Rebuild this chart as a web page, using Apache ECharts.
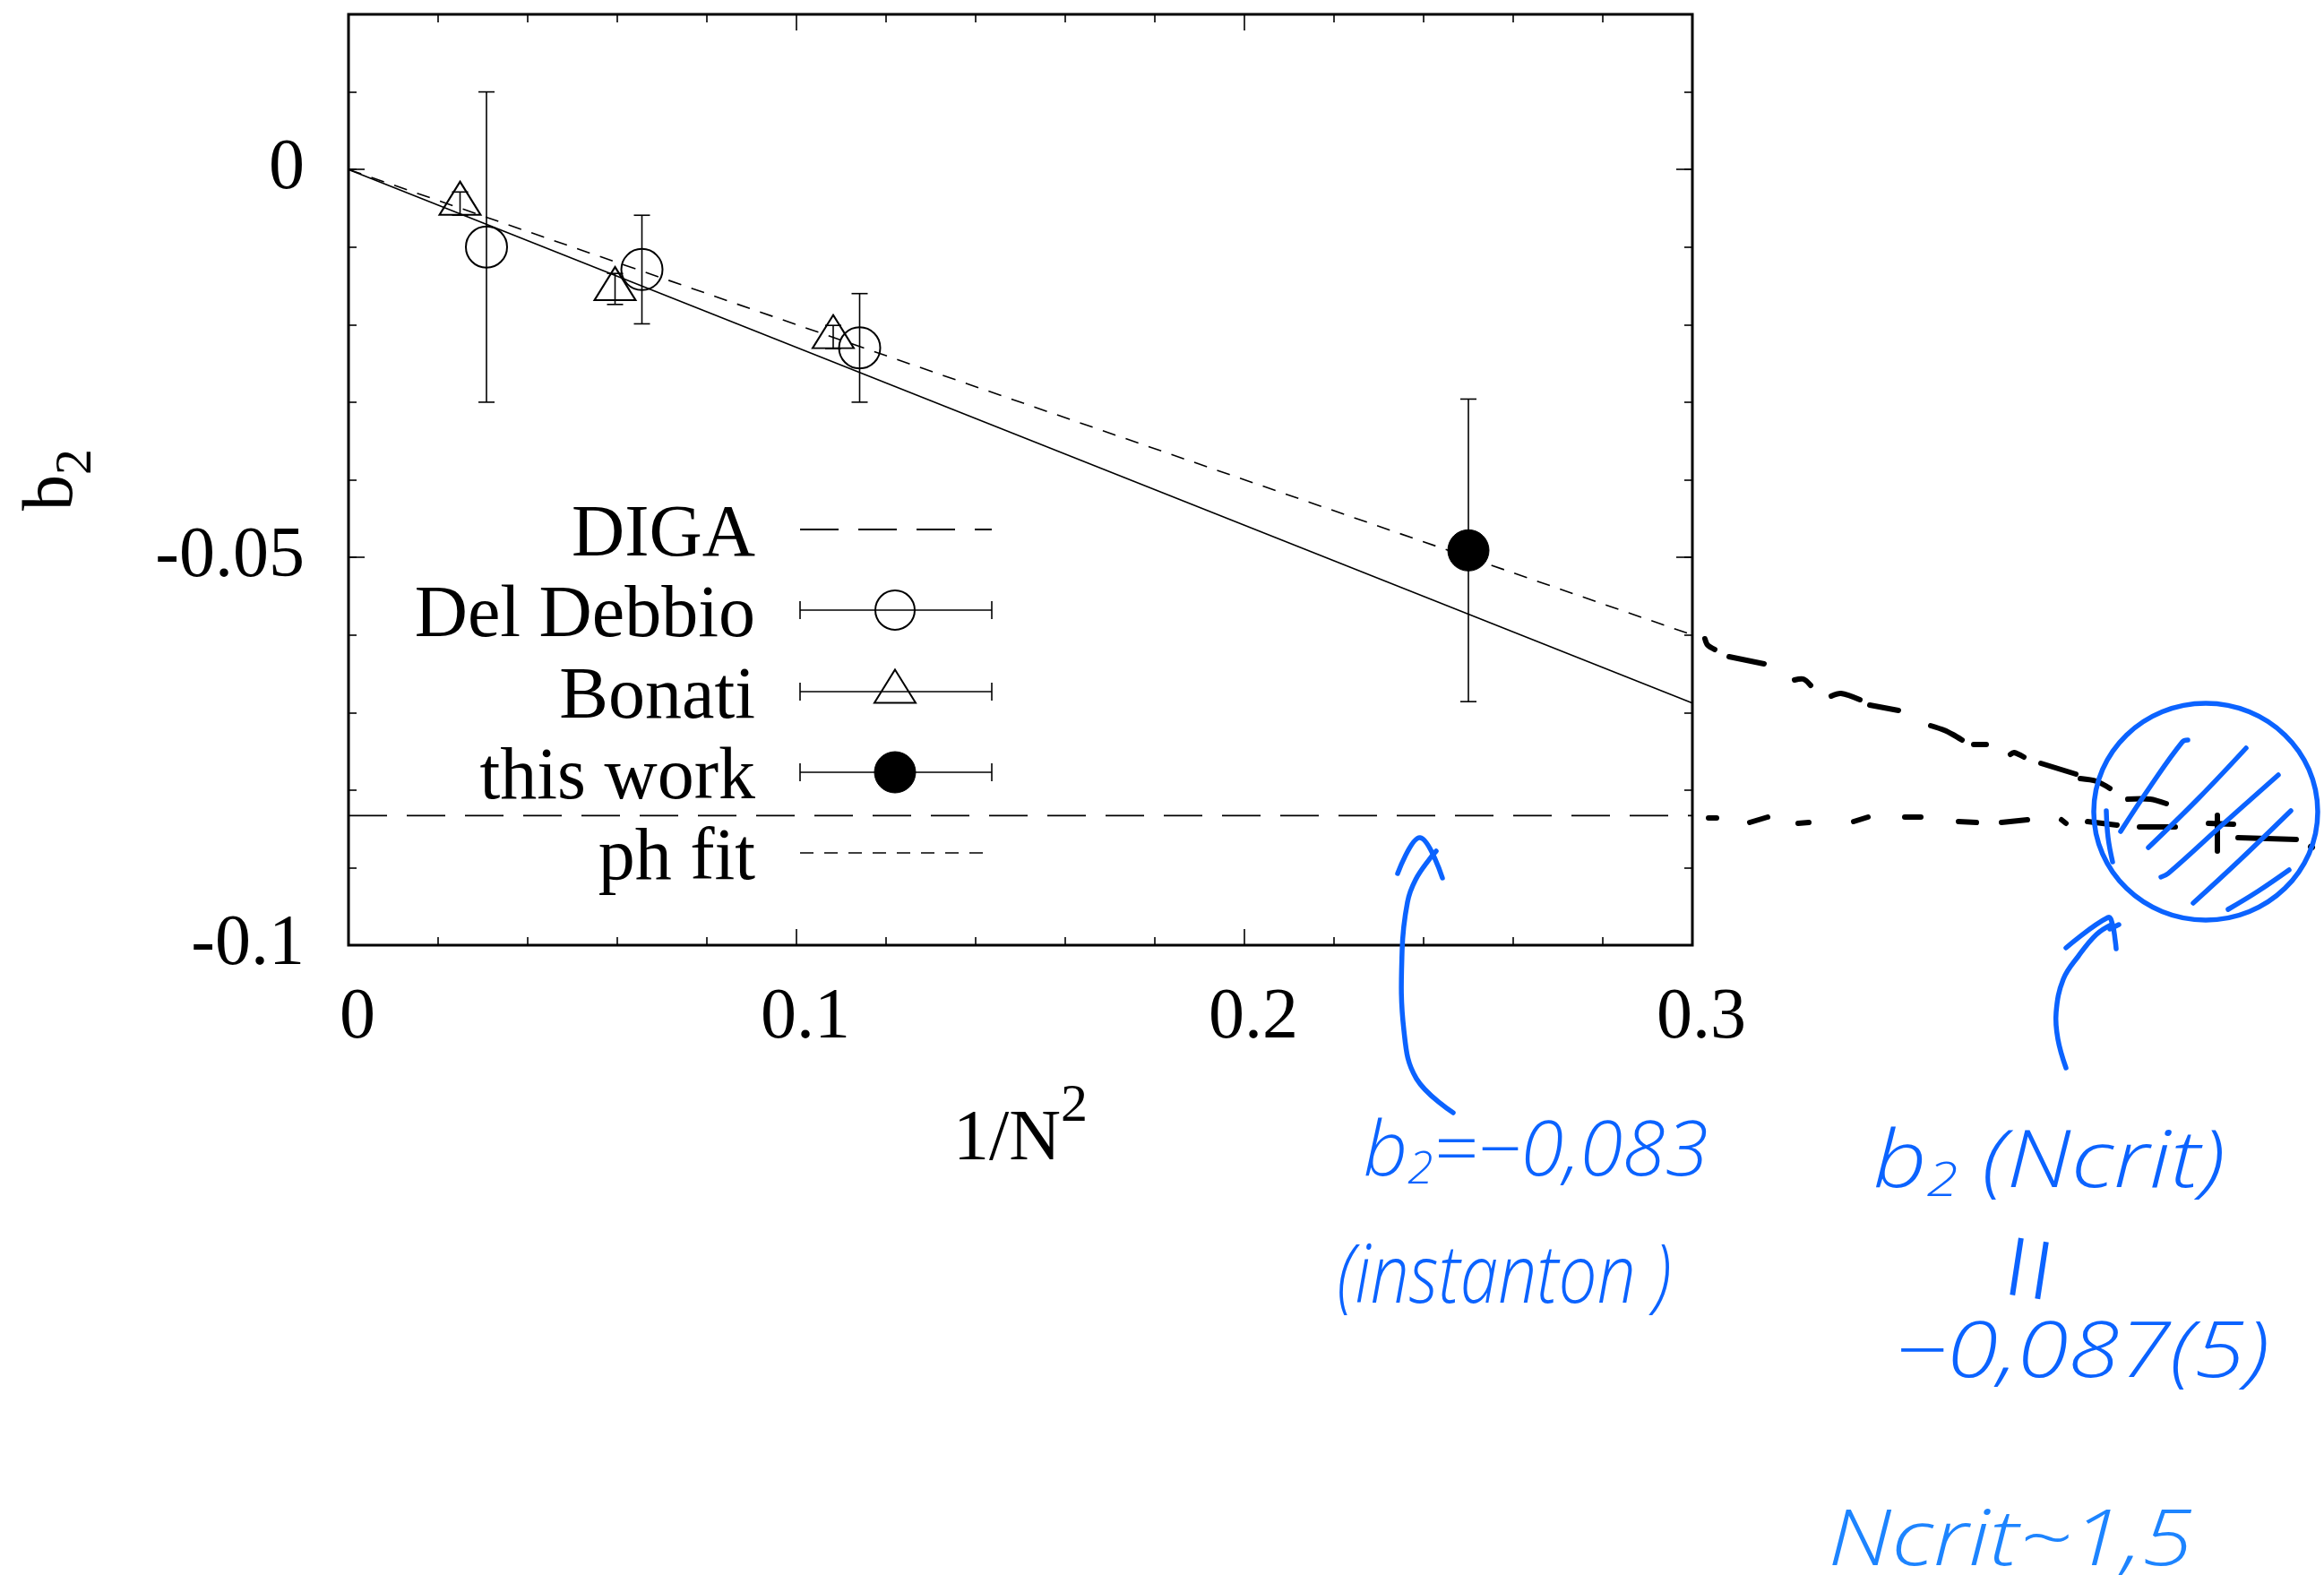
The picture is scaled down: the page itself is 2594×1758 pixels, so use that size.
<!DOCTYPE html>
<html>
<head>
<meta charset="utf-8">
<script src="https://cdn.jsdelivr.net/npm/echarts@6/dist/echarts.min.js"></script>
<style>
  html, body { margin: 0; padding: 0; background: #fff; }
  #chart { width: 2594px; height: 1758px; }
</style>
</head>
<body>
<div id="chart"></div>
<script>
// b2 versus 1/N^2 : lattice results, fits and the instanton-gas value
const ddX = [0.0308, 0.0655, 0.1141];
const ddY = [-0.0100, -0.0129, -0.0230];
const ddErr = [0.0200, 0.0070, 0.0070];

const bonX = [0.0249, 0.0595, 0.1082];
const bonY = [-0.0044, -0.0154, -0.0216];
const bonErr = [0.0015, 0.0020, 0.0015];

const workX = [0.25];
const workY = [-0.0491];
const workErr = [0.0195];

const fitX = [0, 0.3];
const phFitY = [0, -0.0600];
const solidFitY = [0, -0.0688];
const digaY = [-0.0833, -0.0833];

const xTicks = [0, 0.1, 0.2, 0.3];
const xTickLabels = ['0', '0.1', '0.2', '0.3'];
const yTicks = [-0.1, -0.05, 0];
const yTickLabels = ['-0.1', '-0.05', '0'];

const legendNames = ['DIGA', 'Del Debbio', 'Bonati', 'this work', 'ph fit'];

const SERIF = '"Liberation Serif", "Times New Roman", serif';
const HAND = '"Open Sans", "Noto Sans", "DejaVu Sans", sans-serif';
const BLUE = '#0b63ff';
const BLUE2 = '#1d84ff';

const chart = echarts.init(document.getElementById('chart'), null, { renderer: 'canvas' });

function pairs(xs, ys) { return xs.map((x, i) => [x, ys[i]]); }

function tickText(ticks, labels) {
  return function (v) {
    for (let i = 0; i < ticks.length; i++) {
      if (Math.abs(v - ticks[i]) < 1e-9) return labels[i];
    }
    return '';
  };
}

function errorBars(name, xs, ys, es) {
  return {
    name: name,
    type: 'custom',
    xAxisIndex: 0, yAxisIndex: 0,
    silent: true, z: 3,
    data: xs.map((x, i) => [x, ys[i] - es[i], ys[i] + es[i]]),
    renderItem: function (params, api) {
      const lo = api.coord([api.value(0), api.value(1)]);
      const hi = api.coord([api.value(0), api.value(2)]);
      const cap = 9;
      const st = { stroke: '#000', lineWidth: 1.6 };
      return {
        type: 'group',
        children: [
          { type: 'line', shape: { x1: lo[0], y1: lo[1], x2: hi[0], y2: hi[1] }, style: st },
          { type: 'line', shape: { x1: lo[0] - cap, y1: lo[1], x2: lo[0] + cap, y2: lo[1] }, style: st },
          { type: 'line', shape: { x1: hi[0] - cap, y1: hi[1], x2: hi[0] + cap, y2: hi[1] }, style: st }
        ]
      };
    }
  };
}

const tickStyle = { color: '#000', width: 1.6 };

function xAx(pos, showLabels) {
  return {
    type: 'value', position: pos, min: 0, max: 0.3, interval: 0.1,
    axisLine: { show: false, onZero: false },
    axisTick: { show: true, inside: true, length: 18, lineStyle: tickStyle },
    minorTick: { show: true, splitNumber: 5, length: 9, lineStyle: tickStyle },
    splitLine: { show: false },
    axisLabel: showLabels ? {
      show: true, margin: 42, color: '#000', fontSize: 80, fontFamily: SERIF,
      padding: [0, 0, 0, 20],
      formatter: tickText(xTicks, xTickLabels)
    } : { show: false }
  };
}

function yAx(pos, interval, len, showLabels) {
  return {
    type: 'value', position: pos, min: -0.1, max: 0.02, interval: interval,
    axisLine: { show: false, onZero: false },
    axisTick: { show: true, inside: true, length: len, lineStyle: tickStyle },
    splitLine: { show: false },
    axisLabel: showLabels ? {
      show: true, margin: 49, color: '#000', fontSize: 80, fontFamily: SERIF,
      showMaxLabel: false,
      formatter: tickText(yTicks, yTickLabels)
    } : { show: false }
  };
}

const xAxes = [xAx('bottom', true), xAx('top', false)];
xAxes[0].name = '{m|1/N}{s|2}';
xAxes[0].nameLocation = 'middle';
xAxes[0].nameGap = 150;
xAxes[0].nameTextStyle = {
  color: '#000', fontFamily: SERIF,
  rich: {
    m: { fontSize: 80, fontFamily: SERIF, color: '#000', lineHeight: 80, verticalAlign: 'bottom' },
    s: { fontSize: 60, fontFamily: SERIF, color: '#000', verticalAlign: 'top', padding: [0, 0, 48, 0] }
  }
};

const yAxes = [
  yAx('left', 0.05, 18, true),
  yAx('left', 0.01, 9, false),
  yAx('right', 0.05, 18, false),
  yAx('right', 0.01, 9, false)
];
yAxes[0].name = '{b|b}{s|2}';
yAxes[0].nameLocation = 'middle';
yAxes[0].nameRotate = 90;
yAxes[0].nameGap = 290;
yAxes[0].nameTextStyle = {
  color: '#000', fontFamily: SERIF,
  rich: {
    b: { fontSize: 80, fontFamily: SERIF, color: '#000', lineHeight: 80, verticalAlign: 'top' },
    s: { fontSize: 58, fontFamily: SERIF, color: '#000', lineHeight: 58, verticalAlign: 'top', padding: [38, 0, 0, 0] }
  }
};

const series = [
  {
    name: 'solid fit', type: 'line', data: pairs(fitX, solidFitY),
    showSymbol: false, silent: true, z: 2,
    lineStyle: { color: '#000', width: 1.6, type: 'solid' }
  },
  {
    name: legendNames[4], type: 'line', data: pairs(fitX, phFitY),
    showSymbol: false, silent: true, z: 2,
    lineStyle: { color: '#000', width: 1.6, type: [15, 12] }
  },
  {
    name: legendNames[0], type: 'line', data: pairs(fitX, digaY),
    showSymbol: false, silent: true, z: 2,
    lineStyle: { color: '#000', width: 1.8, type: [43, 22] }
  },
  errorBars(legendNames[1] + ' errors', ddX, ddY, ddErr),
  errorBars(legendNames[2] + ' errors', bonX, bonY, bonErr),
  errorBars(legendNames[3] + ' errors', workX, workY, workErr),
  {
    name: legendNames[1], type: 'scatter', data: pairs(ddX, ddY), z: 4,
    symbol: 'circle', symbolSize: 46,
    itemStyle: { color: 'rgba(0,0,0,0)', borderColor: '#000', borderWidth: 2, opacity: 1 }
  },
  {
    name: legendNames[2], type: 'scatter', data: pairs(bonX, bonY), z: 4,
    symbol: 'triangle', symbolSize: [46, 37], symbolOffset: [0, -6],
    itemStyle: { color: 'rgba(0,0,0,0)', borderColor: '#000', borderWidth: 2, opacity: 1 }
  },
  {
    name: legendNames[3], type: 'scatter', data: pairs(workX, workY), z: 4,
    symbol: 'circle', symbolSize: 46,
    itemStyle: { color: '#000', borderColor: '#000', borderWidth: 1, opacity: 1 }
  }
];

// key: label column on the left, sample column on the right
const keyRight = 843, keyX1 = 893, keyX2 = 1107, keyMid = 999;
const keyRows = [591, 681, 772, 862, 952];
const keyKinds = ['longdash', 'open-circle', 'open-triangle', 'filled-circle', 'shortdash'];
const keyGraphics = [];
keyRows.forEach(function (y, i) {
  keyGraphics.push({
    type: 'text', x: keyRight, y: y + 7, silent: true,
    style: { text: legendNames[i], fontSize: 82, fontFamily: SERIF, fill: '#000', align: 'right', verticalAlign: 'middle' }
  });
  const kind = keyKinds[i];
  const st = { stroke: '#000', lineWidth: 1.6 };
  if (kind === 'longdash' || kind === 'shortdash') {
    keyGraphics.push({
      type: 'line', silent: true,
      shape: { x1: keyX1, y1: y, x2: keyX2, y2: y },
      style: { stroke: '#000', lineWidth: kind === 'longdash' ? 1.8 : 1.6, lineDash: kind === 'longdash' ? [43, 22] : [15, 12] }
    });
  } else {
    keyGraphics.push({ type: 'line', silent: true, shape: { x1: keyX1, y1: y, x2: keyX2, y2: y }, style: st });
    keyGraphics.push({ type: 'line', silent: true, shape: { x1: keyX1, y1: y - 10, x2: keyX1, y2: y + 10 }, style: st });
    keyGraphics.push({ type: 'line', silent: true, shape: { x1: keyX2, y1: y - 10, x2: keyX2, y2: y + 10 }, style: st });
    if (kind === 'open-circle') {
      keyGraphics.push({ type: 'circle', silent: true, shape: { cx: keyMid, cy: y, r: 22 }, style: { fill: 'none', stroke: '#000', lineWidth: 2 } });
    } else if (kind === 'filled-circle') {
      keyGraphics.push({ type: 'circle', silent: true, shape: { cx: keyMid, cy: y, r: 23 }, style: { fill: '#000', stroke: '#000', lineWidth: 1 } });
    } else {
      keyGraphics.push({
        type: 'polygon', silent: true,
        shape: { points: [[keyMid, y - 24.5], [keyMid + 23, y + 12.5], [keyMid - 23, y + 12.5]] },
        style: { fill: 'none', stroke: '#000', lineWidth: 2 }
      });
    }
  }
});

// hand-written notes over the figure
function stroke(points, color, width, smooth) {
  return {
    type: 'polyline', silent: true, z: 50,
    shape: { points: points, smooth: smooth || 0 },
    style: { stroke: color, lineWidth: width, fill: 'none', lineCap: 'round', lineJoin: 'round' }
  };
}
const inkBlack = '#000';
const inkStrokes = [
  // extrapolation of the dashed fit beyond the frame
  [[1903, 713], [1906, 720], [1914, 725]],
  [[1930, 733], [1969, 741]],
  [[2003, 759], [2013, 758], [2021, 765]],
  [[2044, 777], [2055, 774], [2076, 781]],
  [[2087, 787], [2119, 793]],
  [[2155, 810], [2170, 815], [2180, 820], [2190, 826]],
  [[2203, 831], [2217, 831]],
  [[2244, 842], [2248, 840], [2259, 845]],
  [[2278, 852], [2317, 864]],
  [[2322, 869], [2340, 872], [2355, 880]],
  [[2375, 892], [2400, 892], [2418, 897]],
  // continuation of the instanton line
  [[1907, 913], [1916, 913]],
  [[1953, 918], [1973, 912]],
  [[2007, 919], [2019, 918]],
  [[2069, 917], [2085, 912]],
  [[2126, 912], [2144, 912]],
  [[2186, 917], [2206, 918]],
  [[2234, 918], [2263, 915]],
  [[2301, 915], [2306, 919]],
  [[2330, 917], [2363, 921]],
  [[2388, 923], [2428, 923]],
  [[2475, 910], [2475, 950]],
  [[2465, 919], [2493, 920]],
  [[2498, 935], [2563, 937]],
  [[2579, 945], [2581, 946]]
];
const handGraphics = inkStrokes.map(p => stroke(p, inkBlack, 6, 0.3));

const blueStrokes = [
  // arrow to the instanton line
  [[1622, 1242], [1581, 1204], [1567, 1150], [1565, 1061], [1571, 1007], [1580, 982], [1597, 957], [1603, 950]],
  [[1560, 975], [1585, 935], [1610, 980]],
  // arrow to the circled extrapolation
  [[2306, 1192], [2297, 1160], [2295, 1130], [2303, 1093], [2320, 1067], [2340, 1043], [2357, 1032]],
  [[2306, 1058], [2353, 1024], [2358, 1032], [2361, 1050], [2362, 1059]],
  [[2355, 1037], [2365, 1032]],
  // hatching inside the circle
  [[2367, 928], [2400, 878], [2436, 828], [2442, 826]],
  [[2398, 946], [2455, 890], [2507, 835]],
  [[2412, 979], [2420, 975], [2480, 921], [2543, 865]],
  [[2448, 1008], [2500, 960], [2557, 905]],
  [[2487, 1015], [2520, 995], [2555, 971]],
  [[2351, 905], [2353, 935], [2358, 962]]
];
blueStrokes.forEach(p => handGraphics.push(stroke(p, BLUE, 5.5, 0.4)));
handGraphics.push({
  type: 'ellipse', silent: true, z: 50,
  shape: { cx: 2462, cy: 906, rx: 125, ry: 121 },
  style: { fill: 'none', stroke: BLUE, lineWidth: 5.5 }
});

function note(text, x, y, size, color, sx, rot) {
  return {
    type: 'text', silent: true, z: 50, x: x, y: y,
    scaleX: sx || 1, rotation: rot || 0,
    style: {
      text: text, fill: color, fontSize: size, fontFamily: HAND, fontStyle: 'italic', fontWeight: 300,
      align: 'center', verticalAlign: 'middle',
      rich: {
        s: { fontSize: Math.round(size * 0.6), fontFamily: HAND, fontStyle: 'italic', fontWeight: 300, fill: color, verticalAlign: 'top', padding: [Math.round(size * 0.45), 0, 0, 0] }
      }
    }
  };
}
handGraphics.push(note('b{s|2}=−0,083', 1714, 1288, 84, BLUE, 1.03));
handGraphics.push(note('(instanton )', 1679, 1428, 90, BLUE, 0.85));
handGraphics.push(note('b{s|2} (Ncrit)', 2287, 1300, 88, BLUE, 1.19));
handGraphics.push(note('=', 2274, 1420, 140, BLUE, 1, Math.PI / 2 - 0.15));
handGraphics.push(note('−0,087(5)', 2324, 1512, 86, BLUE, 1.2));
handGraphics.push(note('Ncrit~1,5', 2244, 1722, 86, BLUE2, 1.2));

chart.setOption({
  animation: false,
  backgroundColor: '#fff',
  grid: {
    left: 389, top: 16, right: 705, bottom: 703,
    show: true, borderColor: '#000', borderWidth: 3, backgroundColor: 'rgba(0,0,0,0)',
    containLabel: false
  },
  xAxis: xAxes,
  yAxis: yAxes,
  series: series,
  graphic: keyGraphics.concat(handGraphics)
});
</script>
</body>
</html>
